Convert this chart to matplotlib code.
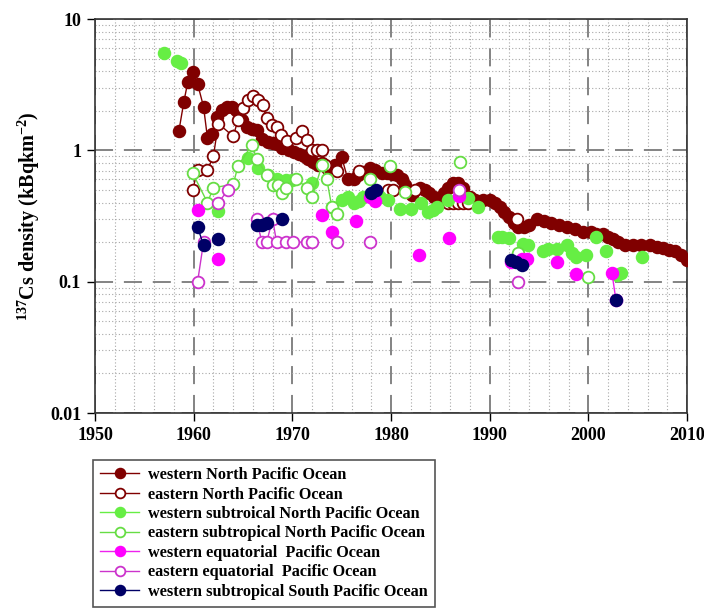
import matplotlib
matplotlib.use("Agg")
import matplotlib.pyplot as plt
from matplotlib.lines import Line2D
from matplotlib.ticker import MultipleLocator, LogLocator, NullFormatter, FixedLocator
import numpy as np

plt.rcParams['font.family'] = ['Liberation Serif', 'DejaVu Serif']
plt.rcParams['font.weight'] = 'bold'
plt.rcParams['mathtext.fontset'] = 'custom'
plt.rcParams['mathtext.rm'] = 'Liberation Serif:bold'
plt.rcParams['mathtext.it'] = 'Liberation Serif:bold'
plt.rcParams['mathtext.bf'] = 'Liberation Serif:bold'

# ---------------- data ----------------
# western North Pacific Ocean (filled dark red)
wnp_year = [1958.5, 1959.0, 1959.4, 1959.9, 1960.4, 1961.0, 1961.4, 1961.9, 1962.4, 1962.9,
            1963.4, 1963.9, 1964.3, 1964.9, 1965.4, 1965.9, 1966.4, 1966.9, 1967.5, 1968.0,
            1968.4, 1969.0, 1969.7, 1970.2, 1970.7, 1971.2, 1971.6, 1972.1, 1972.6, 1973.0,
            1973.5, 1973.9, 1974.3, 1975.0, 1975.6, 1976.2, 1976.7, 1977.2, 1977.9, 1978.4,
            1979.1, 1979.6, 1980.1, 1980.6, 1981.1, 1981.4, 1982.1, 1982.9, 1983.4, 1983.9,
            1984.4, 1984.9, 1985.4, 1985.8, 1986.3, 1986.8, 1987.3, 1988.0, 1988.5, 1989.3,
            1990.0, 1990.5, 1991.0, 1991.5, 1992.0, 1992.5, 1992.9, 1993.5, 1994.0, 1994.8,
            1995.5, 1996.2, 1997.0, 1997.8, 1998.6, 1999.5, 2000.3, 2000.8, 2001.5, 2002.0,
            2002.5, 2003.0, 2003.7, 2004.5, 2005.3, 2006.2, 2007.0, 2007.6, 2008.2, 2008.8,
            2009.4, 2010.0]
wnp_val = [1.40, 2.33, 3.30, 3.95, 3.20, 2.15, 1.24, 1.33, 1.80, 2.03,
           2.15, 2.15, 2.03, 1.70, 1.50, 1.45, 1.43, 1.22, 1.15, 1.13,
           1.12, 1.05, 1.00, 0.97, 0.94, 0.90, 0.86, 0.82, 0.78, 0.80,
           0.73, 0.72, 0.77, 0.89, 0.61, 0.60, 0.65, 0.68, 0.73, 0.71,
           0.67, 0.67, 0.66, 0.65, 0.60, 0.54, 0.46, 0.52, 0.50, 0.47,
           0.44, 0.43, 0.47, 0.52, 0.56, 0.56, 0.52, 0.44, 0.42, 0.42,
           0.42, 0.40, 0.37, 0.34, 0.31, 0.28, 0.26, 0.26, 0.27, 0.30,
           0.29, 0.28, 0.27, 0.26, 0.25, 0.24, 0.24, 0.23, 0.23, 0.22,
           0.21, 0.20, 0.19, 0.19, 0.19, 0.19, 0.185, 0.18, 0.175, 0.17,
           0.16, 0.147]
wnp_grp = [1] * len(wnp_year)

# eastern North Pacific Ocean (open dark red)
enp_year = [1959.9, 1960.4, 1961.4, 1962.0, 1962.5, 1964.0, 1964.5, 1965.0, 1965.5, 1966.0,
            1966.5, 1967.0, 1967.4, 1967.9, 1968.4, 1968.9, 1969.5, 1970.4, 1971.0, 1971.5,
            1972.0, 1972.5, 1973.0, 1973.3, 1974.5, 1976.8, 1979.7, 1980.2, 1982.4,
            1985.8, 1986.3, 1986.8, 1987.3, 1987.8, 1992.8]
enp_val = [0.50, 0.71, 0.71, 0.90, 1.60, 1.28, 1.70, 2.10, 2.40, 2.60,
           2.40, 2.20, 1.75, 1.55, 1.50, 1.30, 1.18, 1.25, 1.40, 1.20,
           1.00, 1.00, 1.00, 0.78, 0.70, 0.70, 0.50, 0.50, 0.50,
           0.40, 0.40, 0.40, 0.40, 0.40, 0.30]
enp_grp = [1] * 24 + [2, 3, 4, 4, 5, 6, 6, 6, 6, 6, 7]

# western subtropical North Pacific Ocean (filled light green)
wsnp_year = [1957.0, 1958.3, 1958.7, 1962.5, 1965.5, 1966.5, 1967.5, 1968.4, 1969.4, 1970.0,
             1972.0, 1974.0, 1975.0, 1975.6, 1976.2, 1976.8, 1977.2, 1978.9, 1979.7, 1980.9,
             1982.0, 1983.0, 1983.8, 1984.3, 1984.7, 1985.8, 1987.8, 1988.8, 1990.8, 1991.3,
             1992.0, 1993.4, 1993.9, 1995.4, 1995.9, 1996.8, 1997.8, 1998.3, 1998.8, 1999.8,
             2000.8, 2001.8, 2002.9, 2003.3, 2005.4]
wsnp_val = [5.5, 4.8, 4.6, 0.345, 0.87, 0.73, 0.65, 0.61, 0.59, 0.59,
            0.56, 0.37, 0.42, 0.44, 0.40, 0.41, 0.44, 0.44, 0.42, 0.36,
            0.36, 0.40, 0.34, 0.35, 0.37, 0.42, 0.43, 0.37, 0.22, 0.22,
            0.215, 0.195, 0.19, 0.17, 0.177, 0.177, 0.19, 0.165, 0.155, 0.16,
            0.22, 0.17, 0.112, 0.117, 0.155]
wsnp_grp = list(range(len(wsnp_year)))

# eastern subtropical North Pacific Ocean (open light green)
esnp_year = [1959.9, 1961.4, 1962.0, 1964.0, 1964.5, 1965.9, 1966.4, 1967.4, 1968.0, 1968.5,
             1969.0, 1969.4, 1970.4, 1971.5, 1972.0, 1973.0, 1973.5, 1974.0, 1974.5,
             1977.9, 1979.9, 1981.4, 1987.0, 1992.9, 2000.0]
esnp_val = [0.67, 0.40, 0.52, 0.55, 0.76, 1.10, 0.86, 0.65, 0.54, 0.54,
            0.47, 0.52, 0.60, 0.52, 0.44, 0.77, 0.60, 0.37, 0.33,
            0.60, 0.76, 0.48, 0.82, 0.165, 0.108]
esnp_grp = [1] * 19 + [2, 3, 4, 5, 6, 7]

# western equatorial Pacific Ocean (filled magenta)
weq_year = [1960.4, 1962.5, 1973.0, 1974.0, 1976.5, 1977.9, 1978.4, 1982.8, 1985.9, 1986.9,
            1992.2, 1993.3, 1993.8, 1996.8, 1998.8, 2002.4, 2002.8]
weq_val = [0.35, 0.15, 0.32, 0.24, 0.29, 0.44, 0.41, 0.16, 0.215, 0.45,
           0.14, 0.15, 0.15, 0.14, 0.115, 0.116, 0.072]
weq_grp = [1, 2, 3, 4, 5, 6, 6, 7, 8, 9, 10, 10, 10, 11, 12, 13, 13]

# eastern equatorial Pacific Ocean (open magenta)
eeq_year = [1960.4, 1961.0, 1962.5, 1963.5, 1966.4, 1966.9, 1967.4, 1968.0, 1968.4, 1969.4,
            1970.1, 1971.5, 1972.0, 1974.5, 1977.9, 1986.9, 1992.9]
eeq_val = [0.10, 0.20, 0.40, 0.50, 0.30, 0.20, 0.20, 0.30, 0.20, 0.20,
           0.20, 0.20, 0.20, 0.20, 0.20, 0.50, 0.10]
eeq_grp = [1, 1, 2, 2, 3, 3, 3, 3, 3, 3, 3, 3, 3, 4, 5, 6, 7]

# western subtropical South Pacific Ocean (filled navy)
wssp_year = [1960.4, 1961.0, 1962.5, 1966.4, 1966.9, 1967.4, 1969.0, 1978.0, 1978.5,
             1992.2, 1992.7, 1993.3, 2002.8]
wssp_val = [0.26, 0.19, 0.21, 0.27, 0.27, 0.28, 0.30, 0.47, 0.50,
            0.147, 0.14, 0.135, 0.072]
wssp_grp = [1, 1, 2, 3, 3, 3, 4, 5, 5, 6, 6, 6, 7]

labels = ["western North Pacific Ocean",
          "eastern North Pacific Ocean",
          "western subtroical North Pacific Ocean",
          "eastern subtropical North Pacific Ocean",
          "western equatorial  Pacific Ocean",
          "eastern equatorial  Pacific Ocean",
          "western subtropical South Pacific Ocean"]

x_ticks = [1950, 1960, 1970, 1980, 1990, 2000, 2010]
y_ticks = [0.01, 0.1, 1, 10]
y_ticklabels = ["0.01", "0.1", "1", "10"]

# ---------------- style ----------------
series = [
    (wnp_year, wnp_val, wnp_grp, dict(color="#800000", mfc="#800000", mec="#800000")),
    (enp_year, enp_val, enp_grp, dict(color="#800000", mfc="white", mec="#800000")),
    (wsnp_year, wsnp_val, wsnp_grp, dict(color="#66EE44", mfc="#66EE44", mec="#66EE44")),
    (esnp_year, esnp_val, esnp_grp, dict(color="#66DD44", mfc="white", mec="#66DD44")),
    (weq_year, weq_val, weq_grp, dict(color="#EE22EE", mfc="#FF00FF", mec="#FF00FF")),
    (eeq_year, eeq_val, eeq_grp, dict(color="#CC33CC", mfc="white", mec="#CC33CC")),
    (wssp_year, wssp_val, wssp_grp, dict(color="#000066", mfc="#000066", mec="#000066")),
]

fig = plt.figure(figsize=(7.04, 6.10), dpi=100)
ax = fig.add_axes([95 / 704, 1 - 413 / 610, (687 - 95) / 704, (413 - 19) / 610])

ms = 8.4
handles = []
for (xs, ys, gs, st), lab in zip(series, labels):
    xs = np.asarray(xs, float)
    ys = np.asarray(ys, float)
    gs = np.asarray(gs)
    for g in list(dict.fromkeys(gs.tolist())):
        m = gs == g
        ax.plot(xs[m], ys[m], '-', color=st["color"], lw=1.0, marker='o', ms=ms,
                mfc=st["mfc"], mec=st["mec"], mew=1.3, zorder=3)
    handles.append(Line2D([0], [0], color=st["color"], lw=1.0, marker='o', ms=7,
                          mfc=st["mfc"], mec=st["mec"], mew=1.3))

ax.set_yscale('log')
ax.set_xlim(1950, 2010)
ax.set_ylim(0.01, 10)
ax.xaxis.set_major_locator(FixedLocator(x_ticks))
ax.xaxis.set_minor_locator(MultipleLocator(2))
ax.yaxis.set_major_locator(FixedLocator(y_ticks))
ax.set_yticklabels(y_ticklabels)
ax.yaxis.set_minor_locator(LogLocator(base=10, subs=np.arange(2, 10)))
ax.yaxis.set_minor_formatter(NullFormatter())

ax.grid(True, which='major', color='#7a7a7a', lw=1.3, ls=(0, (10, 6)), zorder=1)
ax.grid(True, which='minor', color='#a8a8a8', lw=0.8, ls=(0, (1, 2)), zorder=1)
ax.tick_params(which='major', direction='out', length=6, width=1, labelsize=13, pad=4)
ax.tick_params(which='minor', length=0)
for lab in ax.get_xticklabels() + ax.get_yticklabels():
    lab.set_fontweight('bold')
for sp in ax.spines.values():
    sp.set_color('#333333')
    sp.set_linewidth(1.2)

ax.set_ylabel(r'$^{137}$Cs density (kBqkm$^{-2}$)', fontsize=14.5, fontweight='bold', labelpad=6)

leg = fig.legend(handles, labels, loc='upper left', bbox_to_anchor=(93 / 704, 1 - 460 / 610),
                 borderaxespad=0.0,
                 frameon=True, fancybox=False, edgecolor='#555555', framealpha=1,
                 prop={'family': 'Liberation Serif', 'weight': 'bold', 'size': 11.7},
                 handlelength=2.4, labelspacing=0.21, borderpad=0.44, handletextpad=0.55)
leg.get_frame().set_linewidth(1.2)

fig.savefig('out.png', dpi=100)
